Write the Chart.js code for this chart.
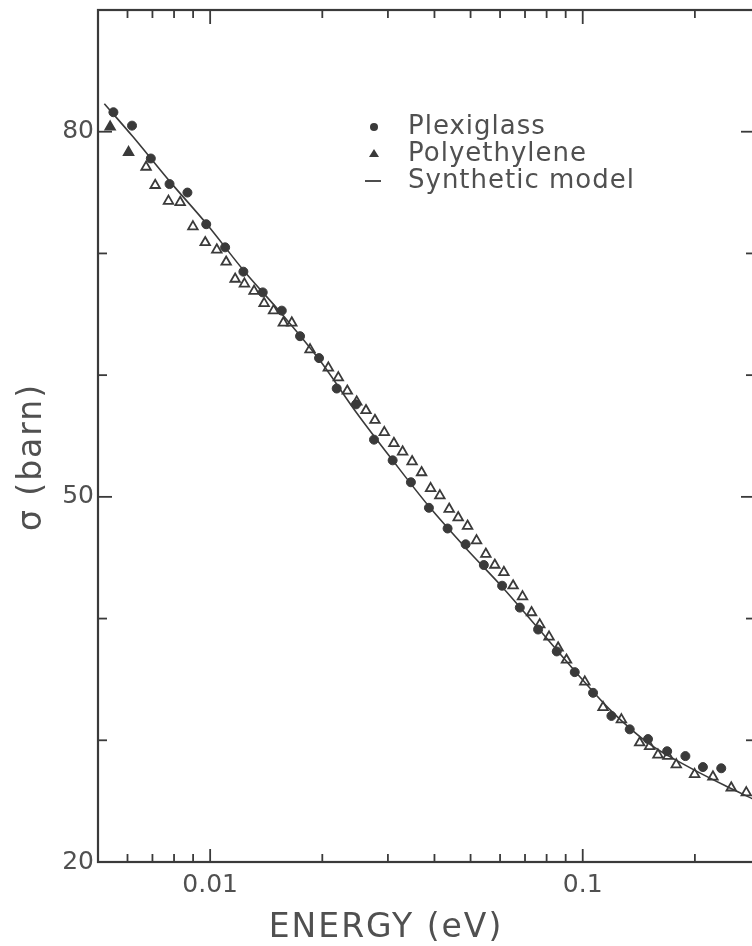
<!DOCTYPE html>
<html>
<head>
<meta charset="utf-8">
<script src="https://cdn.jsdelivr.net/npm/chart.js"></script>
<style>
  html, body { margin: 0; padding: 0; background: #fff; overflow: hidden; }
  #wrap { position: relative; width: 790px; height: 946px; }
</style>
</head>
<body>
<div id="wrap"><canvas id="sigmaChart" width="790" height="946"></canvas></div>
<script>
// total cross section (barn) against neutron energy (eV)
const plexiE = [0.0055, 0.00617, 0.00693, 0.00778, 0.00869, 0.00976, 0.01097, 0.01228, 0.01384, 0.01557,
  0.01743, 0.0196, 0.02186, 0.02463, 0.02753, 0.03089, 0.03458, 0.03865, 0.04338, 0.0485,
  0.05427, 0.06076, 0.06778, 0.0759, 0.08518, 0.09519, 0.1066, 0.1194, 0.1337, 0.1497,
  0.1685, 0.1886, 0.2102, 0.2354];
const plexiSigma = [81.6, 80.5, 77.8, 75.7, 75.0, 72.4, 70.5, 68.5, 66.8, 65.3,
  63.2, 61.4, 58.9, 57.6, 54.7, 53.0, 51.2, 49.1, 47.4, 46.1,
  44.4, 42.7, 40.9, 39.1, 37.3, 35.6, 33.9, 32.0, 30.9, 30.1,
  29.1, 28.7, 27.8, 27.7];

const polyE = [0.00539, 0.00604, 0.00673, 0.00712, 0.00773, 0.00831, 0.00899, 0.0097, 0.01042, 0.01104,
  0.01167, 0.01236, 0.01312, 0.01396, 0.0148, 0.01572, 0.01656, 0.01854, 0.02076, 0.02208,
  0.02334, 0.02474, 0.0262, 0.02769, 0.02934, 0.03113, 0.03285, 0.03484, 0.03694, 0.03906,
  0.04136, 0.04381, 0.04632, 0.04908, 0.05188, 0.05495, 0.05808, 0.06142, 0.06504, 0.06893,
  0.07288, 0.07667, 0.08121, 0.08589, 0.09045, 0.1013, 0.1134, 0.127, 0.1422, 0.1512,
  0.1592, 0.1693, 0.1783, 0.1997, 0.2236, 0.2504, 0.2748];
const polySigma = [80.4, 78.3, 77.1, 75.6, 74.3, 74.2, 72.2, 70.9, 70.3, 69.3,
  67.9, 67.5, 66.9, 65.9, 65.3, 64.3, 64.3, 62.1, 60.6, 59.8,
  58.7, 57.8, 57.1, 56.3, 55.3, 54.4, 53.7, 52.9, 52.0, 50.7,
  50.1, 49.0, 48.3, 47.6, 46.4, 45.3, 44.4, 43.8, 42.7, 41.8,
  40.5, 39.5, 38.5, 37.6, 36.6, 34.8, 32.7, 31.7, 29.8, 29.5,
  28.8, 28.7, 28.0, 27.2, 27.0, 26.1, 25.7];

const modelE = [0.0052, 0.0062, 0.0078, 0.0098, 0.0123, 0.0156, 0.0196, 0.0246, 0.0309, 0.0387,
  0.0485, 0.0608, 0.0759, 0.0952, 0.1194, 0.151, 0.19, 0.24, 0.29];
const modelSigma = [82.3, 79.6, 75.9, 72.4, 68.6, 65.0, 61.3, 57.0, 53.0, 49.2,
  45.8, 42.6, 39.2, 35.7, 32.4, 29.7, 27.9, 26.3, 25.1];

const legendNames = ['Plexiglass', 'Polyethylene', 'Synthetic model'];

const xLabelTicks = [0.01, 0.1];
const xMinorTicks = [0.006, 0.007, 0.008, 0.009, 0.02, 0.03, 0.04, 0.05, 0.06, 0.07, 0.08, 0.09, 0.2];
const yLabelTicks = [20, 50, 80];
const yMinorTicks = [30, 40, 60, 70];

const ink = '#3a3a3a';
const textInk = '#505050';
const fontFamily = '"DejaVu Sans", "Liberation Sans", sans-serif';

const toPoints = (xs, ys) => xs.map((x, i) => ({ x: x, y: ys[i] }));

// box round the plot with inward ticks on all four sides
const frameTicks = {
  id: 'frameTicks',
  afterDraw(chart) {
    const { ctx, chartArea: a } = chart;
    const xs = chart.scales.x, ys = chart.scales.y;
    const mark = (x1, y1, x2, y2) => { ctx.beginPath(); ctx.moveTo(x1, y1); ctx.lineTo(x2, y2); ctx.stroke(); };
    ctx.save();
    ctx.strokeStyle = ink;
    ctx.lineWidth = 2.2;
    ctx.strokeRect(a.left, a.top, a.right - a.left, a.bottom - a.top);
    ctx.lineWidth = 1.8;
    xMinorTicks.forEach(v => {
      const p = xs.getPixelForValue(v);
      mark(p, a.bottom, p, a.bottom - 8);
      mark(p, a.top, p, a.top + 8);
    });
    xLabelTicks.forEach(v => {
      const p = xs.getPixelForValue(v);
      mark(p, a.bottom, p, a.bottom - 13);
      mark(p, a.top, p, a.top + 14);
    });
    yMinorTicks.forEach(v => {
      const p = ys.getPixelForValue(v);
      mark(a.left, p, a.left + 9, p);
      mark(a.right, p, a.right - 9, p);
    });
    yLabelTicks.forEach(v => {
      const p = ys.getPixelForValue(v);
      mark(a.left, p, a.left + 14, p);
      mark(a.right, p, a.right - 14, p);
    });
    ctx.restore();
  }
};

// axis titles and the key inside the plot
const labelsAndKey = {
  id: 'labelsAndKey',
  afterDraw(chart) {
    const { ctx } = chart;
    ctx.save();
    ctx.fillStyle = textInk;
    ctx.textBaseline = 'middle';
    ctx.letterSpacing = '2px';
    ctx.font = '33px ' + fontFamily;
    ctx.textAlign = 'center';
    ctx.fillText('ENERGY (eV)', 386, 928);
    ctx.translate(32, 457);
    ctx.rotate(-Math.PI / 2);
    ctx.fillText('σ (barn)', 0, 0);
    ctx.restore();

    ctx.save();
    ctx.font = '26px ' + fontFamily;
    ctx.letterSpacing = '1px';
    ctx.textBaseline = 'middle';
    ctx.textAlign = 'left';
    const rows = [127, 154, 181];
    const mx = 374, tx = 408;
    ctx.fillStyle = ink;
    ctx.strokeStyle = ink;
    ctx.beginPath(); ctx.arc(mx, rows[0], 4, 0, Math.PI * 2); ctx.fill();
    ctx.beginPath();
    ctx.moveTo(mx, rows[1] - 5); ctx.lineTo(mx + 5, rows[1] + 3); ctx.lineTo(mx - 5, rows[1] + 3);
    ctx.closePath(); ctx.fill();
    ctx.lineWidth = 1.8;
    ctx.beginPath(); ctx.moveTo(mx - 9, rows[2]); ctx.lineTo(mx + 7, rows[2]); ctx.stroke();
    ctx.fillStyle = textInk;
    legendNames.forEach((name, i) => ctx.fillText(name, tx, rows[i]));
    ctx.restore();
  }
};

new Chart(document.getElementById('sigmaChart'), {
  type: 'scatter',
  data: {
    datasets: [
      {
        label: legendNames[2],
        data: toPoints(modelE, modelSigma),
        showLine: true,
        cubicInterpolationMode: 'monotone',
        borderColor: ink,
        borderWidth: 1.6,
        pointRadius: 0,
        fill: false
      },
      {
        label: legendNames[0],
        data: toPoints(plexiE, plexiSigma),
        pointStyle: 'circle',
        pointRadius: 4.5,
        backgroundColor: ink,
        borderColor: ink,
        borderWidth: 1
      },
      {
        label: legendNames[1],
        data: toPoints(polyE, polySigma),
        pointStyle: 'triangle',
        pointRadius: 5.5,
        backgroundColor: ctx => ctx.dataIndex < 2 ? ink : 'rgba(255,255,255,0.9)',
        borderColor: ink,
        borderWidth: 1.8
      }
    ]
  },
  options: {
    responsive: false,
    devicePixelRatio: 1,
    animation: false,
    events: [],
    layout: { padding: { top: 10, right: 35, left: 0, bottom: 0 } },
    plugins: {
      legend: { display: false },
      tooltip: { enabled: false }
    },
    scales: {
      x: {
        type: 'logarithmic',
        min: 0.005,
        max: 0.29,
        grid: { display: false, drawTicks: false },
        border: { display: false },
        afterBuildTicks: scale => { scale.ticks = xLabelTicks.map(v => ({ value: v })); },
        afterFit: scale => { scale.height = 84; scale.paddingLeft = 0; scale.paddingRight = 0; },
        ticks: {
          autoSkip: false,
          maxRotation: 0,
          padding: 8,
          color: textInk,
          font: { family: fontFamily, size: 25 },
          callback: v => String(v)
        }
      },
      y: {
        type: 'linear',
        min: 20,
        max: 90,
        grid: { display: false, drawTicks: false },
        border: { display: false },
        afterBuildTicks: scale => { scale.ticks = yLabelTicks.map(v => ({ value: v })); },
        afterFit: scale => { scale.width = 98; scale.paddingTop = 0; scale.paddingBottom = 0; },
        ticks: {
          autoSkip: false,
          padding: 4,
          color: textInk,
          font: { family: fontFamily, size: 25 }
        }
      }
    }
  },
  plugins: [frameTicks, labelsAndKey]
});
</script>
</body>
</html>
